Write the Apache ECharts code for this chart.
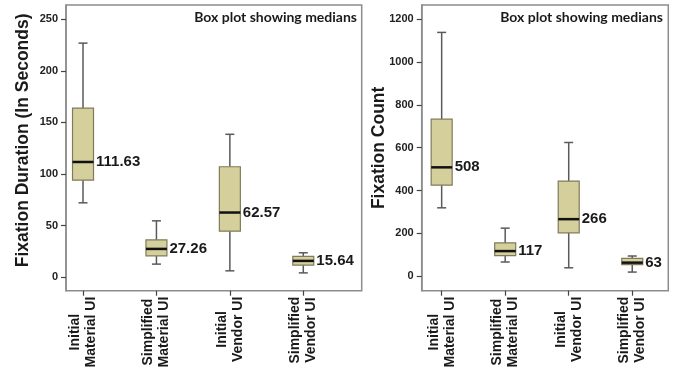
<!DOCTYPE html>
<html><head><meta charset="utf-8">
<script src="https://cdn.jsdelivr.net/npm/echarts@6/dist/echarts.min.js"></script>
<style>html,body{margin:0;padding:0;background:#fff}#c{width:674px;height:378px}</style>
</head><body><div id="c"></div>
<script>
const categories = ['Initial\nMaterial UI', 'Simplified\nMaterial UI', 'Initial\nVendor UI', 'Simplified\nVendor UI'];
// each box: [min, Q1, median, Q3, max]
const durationBoxes = [
  [72, 94, 111.63, 164, 227],
  [12.5, 20.5, 27.26, 36, 54.5],
  [6, 44.5, 62.57, 107, 138.5],
  [4, 11.5, 15.64, 20, 23.5]
];
const durationLabels = ['111.63', '27.26', '62.57', '15.64'];
const durationTicks = [0, 50, 100, 150, 200, 250];
const countBoxes = [
  [319, 425, 508, 733, 1138],
  [66, 96, 117, 155, 224],
  [39, 202, 266, 444, 624],
  [19, 54, 63, 83, 94]
];
const countLabels = ['508', '117', '266', '63'];
const countTicks = [0, 200, 400, 600, 800, 1000, 1200];
const durationTitle = 'Fixation Duration (In Seconds)';
const countTitle = 'Fixation Count';
const noteText = 'Box plot showing medians';

const TXT = '#1a1a1a';
const FRAME = '#8c8c8c';

function boxRender(labels) {
  return function (params, api) {
    const i = api.value(0);
    const c = d => api.coord([i, api.value(d)]);
    const pMin = c(1), pQ1 = c(2), pMed = c(3), pQ3 = c(4), pMax = c(5);
    const x = pMed[0];
    const bw = 21, cw = 9;
    const wStyle = { stroke: '#5a5a5a', lineWidth: 1.5 };
    return {
      type: 'group',
      children: [
        { type: 'line', shape: { x1: x, y1: pMax[1], x2: x, y2: pQ3[1] }, style: wStyle },
        { type: 'line', shape: { x1: x, y1: pQ1[1], x2: x, y2: pMin[1] }, style: wStyle },
        { type: 'line', shape: { x1: x - cw / 2, y1: pMax[1], x2: x + cw / 2, y2: pMax[1] }, style: wStyle },
        { type: 'line', shape: { x1: x - cw / 2, y1: pMin[1], x2: x + cw / 2, y2: pMin[1] }, style: wStyle },
        { type: 'rect', shape: { x: x - bw / 2, y: pQ3[1], width: bw, height: pQ1[1] - pQ3[1] },
          style: { fill: '#d5cf9c', stroke: '#7f7b5c', lineWidth: 1.2 } },
        { type: 'line', shape: { x1: x - bw / 2, y1: pMed[1], x2: x + bw / 2, y2: pMed[1] },
          style: { stroke: '#111', lineWidth: 2.5 } },
        { type: 'text', x: x + bw / 2 + 2.5, y: pMed[1],
          style: { text: labels[i], fill: TXT, fontSize: 15, fontWeight: 'bold', fontFamily: 'Arial',
                   align: 'left', verticalAlign: 'middle' } }
      ]
    };
  };
}

function catAxis(gridIndex) {
  return {
    type: 'category', gridIndex, data: categories,
    axisLine: { show: false, onZero: false },
    axisTick: { show: true, alignWithLabel: true, length: 5, lineStyle: { color: '#444', width: 1.2 } },
    axisLabel: {
      interval: 0, rotate: 90, margin: 6,
      fontSize: 14, fontWeight: 'bold', fontFamily: 'Arial', color: TXT, lineHeight: 16,
      formatter: v => v.split('\n').map(s => '{c|' + s + '}').join('\n'),
      rich: { c: { align: 'center', fontSize: 14, fontWeight: 'bold', fontFamily: 'Arial', color: TXT, lineHeight: 16 } }
    }
  };
}

function valAxis(gridIndex, min, max, ticks, name, gap, pad, margin) {
  return {
    type: 'value', gridIndex, min, max,
    splitLine: { show: false },
    axisLine: { show: true, onZero: false, lineStyle: { color: FRAME, width: 1.5 } },
    axisTick: { show: true, length: 5, customValues: ticks, lineStyle: { color: '#444', width: 1.2 } },
    axisLabel: { customValues: ticks, margin, fontSize: 11, fontWeight: 'bold', fontFamily: 'Arial', color: '#222',
                 formatter: v => String(v) },
    name, nameLocation: 'middle', nameGap: gap, nameMoveOverlap: false,
    nameTextStyle: { fontSize: 17.5, fontWeight: 'bold', fontFamily: 'Arial', color: TXT, padding: pad }
  };
}

const dMin = -13.3, dMax = 264, cMin = -68, cMax = 1266;

const chart = echarts.init(document.getElementById('c'), null, { renderer: 'canvas' });
chart.setOption({
  animation: false,
  backgroundColor: '#fff',
  grid: [
    { left: 66, top: 5, right: 312.3, bottom: 87.3, show: true, borderColor: FRAME, borderWidth: 1.5 },
    { left: 46.3, top: 5, right: 334, bottom: 87.3 },
    { left: 421.7, top: 5, right: 5.7, bottom: 87.3, show: true, borderColor: FRAME, borderWidth: 1.5 },
    { left: 409.9, top: 5, right: 10, bottom: 87.3 }
  ],
  xAxis: [
    { type: 'value', gridIndex: 0, show: false },
    catAxis(1),
    { type: 'value', gridIndex: 2, show: false },
    catAxis(3)
  ],
  yAxis: [
    valAxis(0, dMin, dMax, durationTicks, durationTitle, 34, [0, 0, 0, 15], 8),
    { type: 'value', gridIndex: 1, min: dMin, max: dMax, show: false },
    valAxis(2, cMin, cMax, countTicks, countTitle, 34, [0, 0, 0, 0], 8),
    { type: 'value', gridIndex: 3, min: cMin, max: cMax, show: false }
  ],
  series: [
    { type: 'custom', xAxisIndex: 1, yAxisIndex: 1, renderItem: boxRender(durationLabels),
      encode: { x: 0, y: [1, 2, 3, 4, 5] }, clip: false,
      data: durationBoxes.map((b, i) => [i].concat(b)) },
    { type: 'custom', xAxisIndex: 3, yAxisIndex: 3, renderItem: boxRender(countLabels),
      encode: { x: 0, y: [1, 2, 3, 4, 5] }, clip: false,
      data: countBoxes.map((b, i) => [i].concat(b)) }
  ],
  graphic: [
    { type: 'text', x: 357, y: 17, style: { text: noteText, align: 'right', verticalAlign: 'middle',
      fontSize: 14, fontWeight: 'bold', fontFamily: 'Lato', fill: TXT } },
    { type: 'text', x: 663, y: 17, style: { text: noteText, align: 'right', verticalAlign: 'middle',
      fontSize: 14, fontWeight: 'bold', fontFamily: 'Lato', fill: TXT } }
  ]
});
</script>
</body></html>
